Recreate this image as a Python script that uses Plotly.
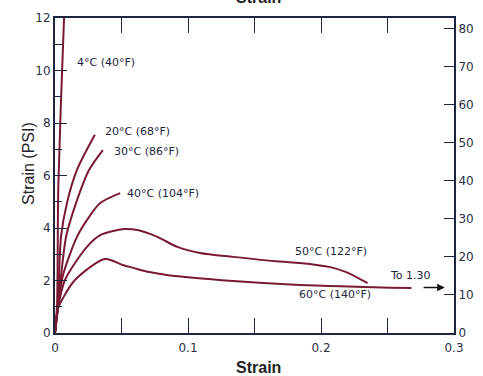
import plotly.graph_objects as go

# ---- data (strain, stress in PSI) ----
c4_x = [0, 0.0015, 0.0025, 0.0068, 0.0075]
c4_y = [0, 1.0, 5.6, 12.0, 12.8]

c20_x = [0, 0.002, 0.0045, 0.009, 0.0165, 0.030]
c20_y = [0, 0.9, 3.66, 4.95, 6.21, 7.55]

c30_x = [0, 0.002, 0.0083, 0.0158, 0.0256, 0.036]
c30_y = [0, 0.9, 3.66, 4.95, 6.21, 6.97]

c40_x = [0, 0.002, 0.006, 0.0165, 0.024, 0.034, 0.049]
c40_y = [0, 0.9, 2.2, 3.66, 4.3, 4.95, 5.33]

c50_x = [0, 0.002, 0.0075, 0.024, 0.034, 0.052, 0.062, 0.077, 0.092, 0.109, 0.134, 0.169, 0.184, 0.207, 0.219, 0.235]
c50_y = [0, 0.9, 2.02, 3.28, 3.73, 3.96, 3.92, 3.66, 3.28, 3.05, 2.90, 2.72, 2.67, 2.51, 2.32, 1.90]

c60_x = [0, 0.002, 0.006, 0.015, 0.0376, 0.051, 0.059, 0.071, 0.084, 0.134, 0.184, 0.268]
c60_y = [0, 0.9, 1.33, 2.02, 2.82, 2.59, 2.48, 2.32, 2.21, 1.98, 1.83, 1.71]

labels = ["4°C (40°F)", "20°C (68°F)", "30°C (86°F)", "40°C (104°F)", "50°C (122°F)", "60°C (140°F)"]
label_x = [0.015, 0.036, 0.043, 0.0526, 0.179, 0.182]
label_y = [10.29, 7.66, 6.93, 5.33, 3.09, 1.45]

x_ticks = [0, 0.1, 0.2, 0.3]
x_ticklabels = ["0", "0.1", "0.2", "0.3"]
y_ticks = [0, 2, 4, 6, 8, 10, 12]
y_ticklabels = ["0", "2", "4", "6", "8", "10", "12"]
kpa_ticks = [0, 10, 20, 30, 40, 50, 60, 70, 80]
PSI_TO_KPA = 6.895

arrow_x = [0.276, 0.293]
arrow_y = [1.73, 1.73]
note_text = "To 1.30"
note_x, note_y = 0.267, 2.2

# ---- figure ----
CURVE = "#7a1a32"
INK = "#1d2540"
TITLE_FONT = dict(family="Liberation Sans", size=16, color="#222222")
fig = go.Figure()
for xs, ys in [(c4_x, c4_y), (c20_x, c20_y), (c30_x, c30_y), (c40_x, c40_y), (c50_x, c50_y), (c60_x, c60_y)]:
    fig.add_trace(go.Scatter(x=xs, y=ys, mode="lines",
                             line=dict(color=CURVE, width=2, shape="spline", smoothing=0.8),
                             showlegend=False, hoverinfo="skip"))

# invisible trace to establish the kPa axis
fig.add_trace(go.Scatter(x=[0, 0.3], y=[0, 12 * PSI_TO_KPA], yaxis="y2", mode="lines",
                         line=dict(width=0), opacity=0, showlegend=False, hoverinfo="skip"))

for t, lx, ly in zip(labels, label_x, label_y):
    fig.add_annotation(x=lx, y=ly, text=t, showarrow=False, xanchor="left", yanchor="middle",
                       font=dict(family="DejaVu Sans", size=11, color=INK))

fig.add_annotation(x=note_x, y=note_y, text=note_text, showarrow=False,
                   font=dict(family="DejaVu Sans", size=11, color=INK))
fig.add_annotation(x=arrow_x[1], y=arrow_y[1], ax=arrow_x[0], ay=arrow_y[0],
                   xref="x", yref="y", axref="x", ayref="y", text="",
                   showarrow=True, arrowhead=2, arrowsize=1, arrowwidth=1.5, arrowcolor="#111111")

# cut-off top title (only its lower edge shows, as in the reference)
fig.add_annotation(x=0.511, y=1.032, xref="paper", yref="paper", text="<b>Strain</b>",
                   showarrow=False, yanchor="bottom", font=TITLE_FONT)

# axis titles
fig.add_annotation(x=-0.065, y=0.537, xref="paper", yref="paper", text="Strain (PSI)",
                   showarrow=False, textangle=-90, xanchor="center", yanchor="middle", font=TITLE_FONT)
fig.add_annotation(x=0.511, y=-0.111, xref="paper", yref="paper", text="<b>Strain</b>",
                   showarrow=False, xanchor="center", yanchor="middle", font=TITLE_FONT)

fig.update_layout(
    width=483, height=376,
    margin=dict(l=55, r=29, t=18, b=43),
    plot_bgcolor="white", paper_bgcolor="white",
    xaxis=dict(range=[0, 0.3], tickvals=x_ticks, ticktext=x_ticklabels,
               ticks="inside", ticklen=15, tickwidth=1.2, tickcolor=INK,
               minor=dict(dtick=0.05, ticks="inside", ticklen=15, tickwidth=1.2, tickcolor=INK),
               showline=True, linecolor=INK, linewidth=2, mirror="ticks",
               showgrid=False, zeroline=False, ticklabelstandoff=3, automargin=False,
               tickfont=dict(family="DejaVu Sans", size=12, color="#2a2f45")),
    yaxis=dict(range=[0, 12], tickvals=y_ticks, ticktext=y_ticklabels,
               ticks="inside", ticklen=12, tickwidth=1.2, tickcolor=INK,
               minor=dict(dtick=1, ticks="inside", ticklen=7, tickwidth=1.2, tickcolor=INK),
               showline=True, linecolor=INK, linewidth=2, mirror=True,
               showgrid=False, zeroline=False, automargin=False,
               tickfont=dict(family="DejaVu Sans", size=12, color="#2a2f45")),
    yaxis2=dict(range=[0, 12 * PSI_TO_KPA], tickvals=kpa_ticks, overlaying="y", side="right",
                ticks="inside", ticklen=10, tickwidth=1.2, tickcolor=INK,
                showline=True, linecolor=INK, linewidth=2,
                showgrid=False, zeroline=False, automargin=False,
                tickfont=dict(family="DejaVu Sans", size=12, color="#2a2f45")),
)

fig.write_html("out.html", config={"displayModeBar": False},
               post_script="document.body.style.margin='0';document.body.style.overflow='hidden';")
